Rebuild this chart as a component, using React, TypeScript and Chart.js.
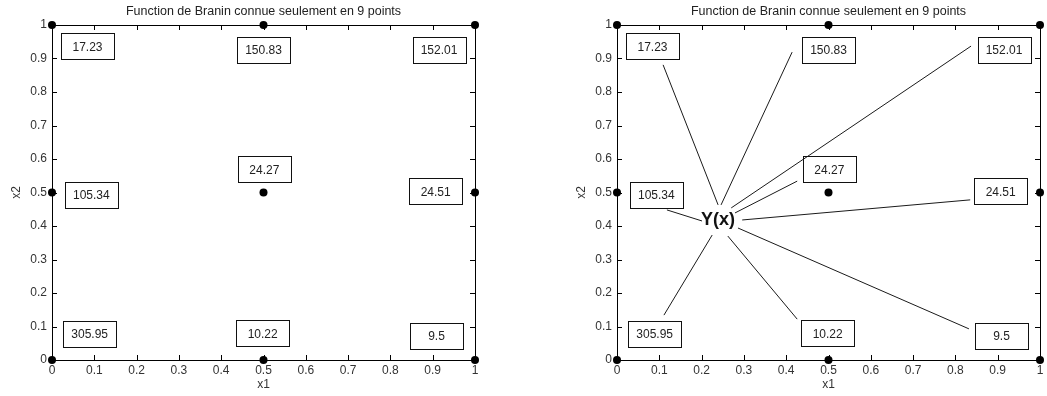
import { useEffect, useRef } from "react";
import { Chart, registerables } from "chart.js";

Chart.register(...registerables);

const FONT = "'Liberation Sans', Arial, Helvetica, sans-serif";
const TITLE = "Function de Branin connue seulement en 9 points";
const X_TITLE = "x1";
const Y_TITLE = "x2";
const TICKS = [0, 0.1, 0.2, 0.3, 0.4, 0.5, 0.6, 0.7, 0.8, 0.9, 1];

// The 9 sampled design points and the known Branin value at each one
const X1 = [0, 0.5, 1, 0, 0.5, 1, 0, 0.5, 1];
const X2 = [0, 0, 0, 0.5, 0.5, 0.5, 1, 1, 1];
const Y_VALUES = [305.95, 10.22, 9.5, 105.34, 24.27, 24.51, 17.23, 150.83, 152.01];

// Where each value's text box is centred (data units)
const LABEL_X = [0.089, 0.498, 0.909, 0.093, 0.502, 0.907, 0.084, 0.5, 0.915];
const LABEL_Y = [0.079, 0.08, 0.072, 0.493, 0.569, 0.503, 0.936, 0.925, 0.925];

// Central "Y(x)" label and the connector segments fanning out to each value box
const HUB_LABEL = "Y(x)";
const HUB_X = 0.239;
const HUB_Y = 0.418;
const LINE_FROM_X = [0.225, 0.262, 0.286, 0.201, 0.279, 0.296, 0.239, 0.246, 0.27];
const LINE_FROM_Y = [0.373, 0.37, 0.394, 0.415, 0.439, 0.418, 0.463, 0.463, 0.454];
const LINE_TO_X = [0.111, 0.426, 0.832, 0.118, 0.426, 0.835, 0.109, 0.414, 0.837];
const LINE_TO_Y = [0.134, 0.122, 0.093, 0.448, 0.534, 0.478, 0.881, 0.919, 0.937];

const BOX_W = 53;
const BOX_H = 26;
const TICK_LEN = 5;

// Boxed axes with inward tick marks on all four sides
const framePlugin = {
  id: "boxedAxes",
  beforeDatasetsDraw(chart: any) {
    const { ctx, chartArea, scales } = chart;
    const { left, right, top, bottom } = chartArea;
    ctx.save();
    ctx.strokeStyle = "#000";
    ctx.lineWidth = 1;
    ctx.beginPath();
    ctx.rect(Math.round(left) + 0.5, Math.round(top) + 0.5, Math.round(right - left), Math.round(bottom - top));
    for (const v of TICKS) {
      const px = Math.round(scales.x.getPixelForValue(v)) + 0.5;
      ctx.moveTo(px, bottom);
      ctx.lineTo(px, bottom - TICK_LEN);
      ctx.moveTo(px, top);
      ctx.lineTo(px, top + TICK_LEN);
      const py = Math.round(scales.y.getPixelForValue(v)) + 0.5;
      ctx.moveTo(left, py);
      ctx.lineTo(left + TICK_LEN, py);
      ctx.moveTo(right, py);
      ctx.lineTo(right - TICK_LEN, py);
    }
    ctx.stroke();
    ctx.restore();
  },
};

// Boxed value labels next to every sample point
const valueBoxPlugin = {
  id: "valueBoxes",
  afterDatasetsDraw(chart: any) {
    const { ctx, scales } = chart;
    ctx.save();
    ctx.strokeStyle = "#111";
    ctx.lineWidth = 1;
    ctx.fillStyle = "#222";
    ctx.font = `12px ${FONT}`;
    ctx.textAlign = "center";
    ctx.textBaseline = "middle";
    Y_VALUES.forEach((val, i) => {
      const cx = scales.x.getPixelForValue(LABEL_X[i]);
      const cy = scales.y.getPixelForValue(LABEL_Y[i]);
      const bx = Math.round(cx - BOX_W / 2) + 0.5;
      const by = Math.round(cy - BOX_H / 2) + 0.5;
      ctx.strokeRect(bx, by, BOX_W, BOX_H);
      ctx.fillText(String(val), cx, cy + 1);
    });
    ctx.restore();
  },
};

// Bold "Y(x)" label at the centre of the connector fan
const hubPlugin = {
  id: "hubLabel",
  afterDatasetsDraw(chart: any) {
    if (!chart.options.plugins.hubLabel?.show) return;
    const { ctx, scales } = chart;
    ctx.save();
    ctx.fillStyle = "#111";
    ctx.font = `bold 18px ${FONT}`;
    ctx.textAlign = "center";
    ctx.textBaseline = "middle";
    ctx.fillText(HUB_LABEL, scales.x.getPixelForValue(HUB_X), scales.y.getPixelForValue(HUB_Y));
    ctx.restore();
  },
};

function makeConfig(withLinks: boolean): any {
  const datasets: any[] = [
    {
      data: X1.map((x, i) => ({ x, y: X2[i] })),
      pointRadius: 4,
      pointBackgroundColor: "#000",
      pointBorderColor: "#000",
      pointBorderWidth: 0,
      showLine: false,
      clip: false,
    },
  ];
  if (withLinks) {
    LINE_FROM_X.forEach((fx, i) => {
      datasets.push({
        data: [
          { x: fx, y: LINE_FROM_Y[i] },
          { x: LINE_TO_X[i], y: LINE_TO_Y[i] },
        ],
        showLine: true,
        borderColor: "#1a1a1a",
        borderWidth: 1,
        pointRadius: 0,
        clip: false,
      });
    });
  }
  const tickFont = { family: FONT, size: 12 };
  return {
    type: "scatter",
    data: { datasets },
    plugins: [framePlugin, valueBoxPlugin, hubPlugin],
    options: {
      animation: false,
      responsive: false,
      devicePixelRatio: 1,
      events: [],
      layout: { padding: { left: 0, right: 7, top: 0, bottom: 0 } },
      plugins: {
        legend: { display: false },
        tooltip: { enabled: false },
        hubLabel: { show: withLinks },
        title: {
          display: true,
          text: TITLE,
          fullSize: false,
          color: "#222",
          font: { family: FONT, size: 12.5, weight: "normal" },
          padding: { top: 4, bottom: 6 },
        },
      },
      scales: {
        x: {
          type: "linear",
          position: "bottom",
          min: 0,
          max: 1,
          afterBuildTicks: (s: any) => {
            s.ticks = TICKS.map((value) => ({ value }));
          },
          afterFit: (s: any) => {
            s.height = 36;
          },
          grid: { display: false, drawTicks: false },
          border: { display: false },
          ticks: {
            color: "#333",
            font: tickFont,
            padding: 3,
            maxRotation: 0,
            minRotation: 0,
            autoSkip: false,
            callback: (v: number) => String(v),
          },
          title: {
            display: true,
            text: X_TITLE,
            color: "#333",
            font: tickFont,
            padding: { top: 0, bottom: 3.8 },
          },
        },
        y: {
          type: "linear",
          position: "left",
          min: 0,
          max: 1,
          afterBuildTicks: (s: any) => {
            s.ticks = TICKS.map((value) => ({ value }));
          },
          afterFit: (s: any) => {
            s.width = 52;
          },
          grid: { display: false, drawTicks: false },
          border: { display: false },
          ticks: {
            color: "#333",
            font: tickFont,
            padding: 5,
            autoSkip: false,
            callback: (v: number) => String(v),
          },
          title: {
            display: true,
            text: Y_TITLE,
            color: "#333",
            font: tickFont,
            padding: { top: 9.5, bottom: 0 },
          },
        },
      },
    },
  };
}

function BraninPanel({ withLinks, left }: { withLinks: boolean; left: number }) {
  const ref = useRef<HTMLCanvasElement>(null);
  useEffect(() => {
    const chart = new Chart(ref.current!, makeConfig(withLinks));
    return () => chart.destroy();
  }, [withLinks]);
  return (
    <canvas
      ref={ref}
      width={482}
      height={396}
      style={{ position: "absolute", left, top: 0, width: 482, height: 396 }}
    />
  );
}

export default function App() {
  return (
    <div
      style={{
        position: "fixed",
        left: 0,
        top: 0,
        width: 1047,
        height: 396,
        background: "#fff",
        overflow: "hidden",
      }}
    >
      <BraninPanel withLinks={false} left={0} />
      <BraninPanel withLinks={true} left={565} />
    </div>
  );
}
